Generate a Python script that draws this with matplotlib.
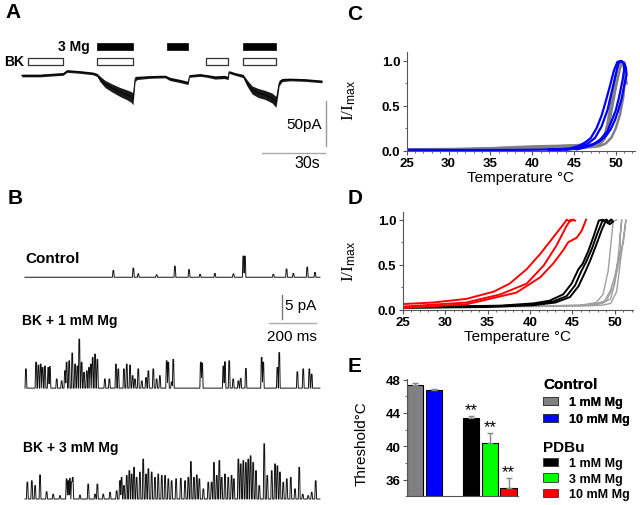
import numpy as np
import matplotlib
matplotlib.use('Agg')
import matplotlib.pyplot as plt
from matplotlib.patches import Patch
from matplotlib.ticker import MultipleLocator

plt.rcParams['font.family'] = ['Liberation Sans', 'DejaVu Sans']
plt.rcParams['mathtext.fontset'] = 'custom'
plt.rcParams['mathtext.rm'] = 'Liberation Sans'
plt.rcParams['mathtext.it'] = 'Liberation Sans:italic'

# ---------------- data: panel A (whole-cell current, s / pA) ----------------
a_t = [0.3, 9.0, 16.2, 20.0, 21.9, 28.1, 34.3, 36.2, 37.6, 40.0, 43.3, 47.1, 50.5,
       52.4, 53.3, 54.3, 55.2, 61.4, 68.6, 70.9, 75.7, 79.5, 80.2, 85.2, 88.6, 92.4,
       96.7, 98.6, 99.0, 101.9, 105.7, 107.6, 110.0, 112.9, 116.2, 119.5, 121.4,
       122.9, 124.3, 128.1, 135.2, 143.3]
a_i = [-0.6, -0.6, 0.6, 1.1, 4.4, 3.3, 1.7, 0.0, -4.4, -10.0, -14.4, -18.9, -22.2,
       -24.4, -26.7, -4.4, -3.3, -2.2, -1.7, -4.4, -6.7, -8.9, -1.1, 0.0, -1.1, -2.8,
       -2.2, -3.3, 3.3, 1.1, -1.1, -8.9, -16.7, -20.0, -22.2, -25.6, -30.0,
       -8.9, -5.6, -5.0, -5.6, -7.2]
a_noise = [1.5, 1.5, 1.5, 1.5, 1.5, 1.5, 1.5, 1.8, 3.0, 4.0, 4.5, 5.0, 5.5,
           6.0, 6.5, 3.0, 1.8, 1.5, 1.5, 1.8, 1.8, 1.8, 1.5, 1.5, 1.5, 1.8,
           1.8, 1.8, 1.5, 1.5, 1.8, 3.5, 4.5, 5.0, 5.0, 5.5, 6.0,
           3.0, 1.8, 1.5, 1.5, 1.5]
bk_start = [3.3, 36.2, 88.1, 105.7]
bk_end = [20.0, 53.3, 98.6, 121.4]
mg_start = [36.2, 69.5, 105.7]
mg_end = [53.3, 79.5, 121.4]

# ---------------- data: panel B (single channel events, ms / pA) ----------------
ctl_t = [376, 461, 482, 638, 698, 808, 929, 936, 1113, 1201, 1234, 560, 745, 887, 1057, 1142]
ctl_a = [1.4, 1.9, 0.7, 2.3, 1.6, 0.8, 4.4, 4.4, 1.7, 2.1, 1.0, 0.5, 0.6, 0.7, 0.6, 0.8]

bk1_t = [4, 47, 57, 67, 75, 85, 99, 106, 135, 156, 170, 177, 188, 201, 213, 223, 231,
         241, 251, 263, 272, 280, 288, 298, 308, 340, 359, 387, 397, 421, 433, 447,
         458, 468, 482, 497, 515, 525, 546, 560, 574, 603, 610, 624, 631, 748, 754,
         844, 851, 869, 886, 908, 918, 940, 1007, 1014, 1074, 1082, 1159, 1184, 1210, 1220]
bk1_a = [4.0, 5.4, 4.8, 5.0, 4.3, 4.6, 4.3, 4.5, 1.9, 1.5, 3.6, 5.4, 5.7, 7.3, 5.0, 4.6, 10.2,
         5.4, 3.3, 3.6, 4.3, 5.0, 6.4, 7.1, 6.0, 1.9, 1.9, 5.0, 4.0, 4.0, 5.0, 4.8,
         2.6, 1.9, 4.0, 1.5, 2.2, 3.6, 4.0, 1.9, 2.6, 5.7, 5.4, 1.3, 6.0, 5.4, 5.2,
         4.6, 5.5, 5.7, 1.9, 1.5, 2.0, 4.1, 6.4, 5.4, 4.3, 7.4, 3.4, 4.0, 4.0, 2.9]

bk3_t = [10, 29, 43, 64, 92, 120, 149, 177, 184, 191, 199, 203, 234, 269, 298, 308, 333,
         362, 390, 404, 411, 421, 433, 444, 454, 464, 475, 489, 503, 515, 525, 539, 553,
         567, 582, 596, 610, 624, 643, 663, 681, 695, 706, 719, 731, 742, 759, 780, 794,
         804, 816, 827, 837, 851, 865, 879, 889, 908, 918, 929, 940, 950, 960, 971, 983,
         997, 1018, 1031, 1050, 1064, 1074, 1085, 1099, 1114, 1131, 1149, 1167, 1182,
         1205, 1220, 1237]
bk3_a = [3.5, 3.8, 2.8, 5.0, 1.5, 1.0, 0.7, 4.2, 3.8, 4.3, 3.6, 4.5, 0.8, 3.1, 1.0, 3.1, 1.0,
         1.4, 1.7, 3.8, 4.5, 2.8, 4.9, 5.9, 5.2, 6.6, 4.5, 5.6, 8.3, 5.2, 6.3, 5.6, 4.5,
         5.2, 4.9, 4.9, 4.2, 3.8, 4.2, 4.3, 3.8, 4.5, 7.8, 4.5, 5.0, 4.2, 2.1, 3.5, 3.5,
         7.6, 4.9, 8.0, 4.5, 5.2, 4.5, 4.9, 4.2, 8.3, 7.3, 8.0, 7.6, 8.3, 9.0, 7.6, 5.9,
         2.8, 11.5, 4.9, 5.9, 7.3, 6.9, 5.6, 3.5, 4.2, 4.5, 2.1, 6.6, 1.0,
         0.7, 1.4, 3.8]

# ---------------- data: panel C (temperature / normalised current) ----------------
c_gray1_T = [25, 30, 35, 38, 41, 44, 46, 47.5, 48.2, 48.6, 49.0, 49.4, 49.8, 50.2, 50.5, 50.9, 51.1, 51.3]
c_gray1_I = [0.01, 0.015, 0.025, 0.04, 0.05, 0.055, 0.06, 0.065, 0.08, 0.14, 0.3, 0.52, 0.74, 0.92, 1.0, 0.97, 0.85, 0.75]
c_gray2_T = [25, 32, 38, 42, 45, 47, 48, 48.6, 49.1, 49.6, 50.1, 50.6, 51.0, 51.1, 50.9, 50.5, 50.0, 49.5, 48.8, 48.0, 47.0, 45.0, 42, 38]
c_gray2_I = [0.015, 0.02, 0.035, 0.045, 0.06, 0.07, 0.08, 0.12, 0.25, 0.5, 0.75, 0.95, 0.98, 0.8, 0.6, 0.4, 0.25, 0.15, 0.08, 0.05, 0.04, 0.03, 0.025, 0.02]
c_blue1_T = [25, 30, 35, 40, 43, 44.5, 45.5, 46.3, 47.0, 47.7, 48.3, 48.8, 49.3, 49.8, 50.2, 50.6, 51.0, 51.2,
             51.3, 51.0, 50.7, 50.3, 49.9, 49.4, 48.8, 48.0, 47.0, 46.0, 45.0, 44.0, 42]
c_blue1_I = [0.01, 0.008, 0.008, 0.01, 0.015, 0.025, 0.05, 0.09, 0.14, 0.25, 0.39, 0.55, 0.72, 0.9, 0.99, 1.0, 0.98, 0.93,
             0.85, 0.72, 0.58, 0.45, 0.34, 0.24, 0.16, 0.1, 0.06, 0.035, 0.02, 0.012, 0.01]
c_blue2_T = [44, 45.5, 46.5, 47.5, 48.3, 49.0, 49.5, 50.0, 50.3, 50.7, 51.0,
             51.0, 50.8, 50.4, 50.0, 49.5, 49.0, 48.2, 47.3, 46.3, 45.3]
c_blue2_I = [0.01, 0.03, 0.07, 0.14, 0.27, 0.45, 0.65, 0.85, 0.97, 1.0, 0.96,
             0.9, 0.78, 0.6, 0.45, 0.33, 0.22, 0.13, 0.07, 0.035, 0.015]

# ---------------- data: panel D ----------------
d_red = [
    ([25.1, 28.6, 32.5, 35.7, 37.6, 39.6, 41.2, 42.7, 44.1, 44.3, 44.7, 45.1],
     [0.063, 0.08, 0.12, 0.2, 0.29, 0.45, 0.62, 0.80, 0.97, 1.0, 0.98, 1.0]),
    ([25.1, 32.5, 36.5, 39.6, 41.6, 43.1, 44.3, 44.8, 45.3],
     [0.035, 0.08, 0.17, 0.29, 0.49, 0.71, 0.93, 1.0, 0.99]),
    ([25.1, 32.5, 38.4, 41.2, 42.7, 43.9, 44.5, 45.5, 46.1, 46.6],
     [0.02, 0.06, 0.19, 0.36, 0.51, 0.66, 0.75, 0.8, 0.88, 1.0]),
]
d_black = [
    ([25, 30, 36.5, 40.4, 42.3, 43.9, 44.9, 45.7, 46.2, 46.9, 47.5, 48.1, 48.6, 49.1, 49.6],
     [0.03, 0.035, 0.045, 0.07, 0.1, 0.17, 0.29, 0.45, 0.51, 0.66, 0.82, 0.99, 1.0, 0.97, 1.0]),
    ([25, 30, 36.5, 40.4, 42.7, 44.3, 45.3, 46.0, 46.6, 47.3, 47.9, 48.5, 49.0],
     [0.025, 0.03, 0.04, 0.06, 0.09, 0.15, 0.27, 0.42, 0.53, 0.68, 0.84, 0.98, 1.0]),
    ([25, 35, 40.4, 43.0, 44.7, 45.7, 46.5, 47.1, 47.8, 48.5, 49.0, 49.4, 49.8, 49.5, 49.2],
     [0.02, 0.03, 0.05, 0.08, 0.14, 0.26, 0.42, 0.55, 0.72, 0.9, 1.0, 0.95, 0.98, 1.0, 0.96]),
]
d_gray = [
    ([25, 35, 42, 46, 47.8, 48.6, 49.2, 49.6, 49.8, 50.2],
     [0.03, 0.035, 0.04, 0.05, 0.08, 0.17, 0.43, 0.8, 0.98, 1.0]),
    ([40, 46, 48.5, 49.5, 50.0, 50.4, 50.8, 50.6, 50.7, 50.4, 50.0, 49.5, 48.8, 48.0, 46.0],
     [0.04, 0.05, 0.07, 0.12, 0.3, 0.6, 1.0, 0.8, 0.68, 0.55, 0.38, 0.22, 0.1, 0.06, 0.05]),
    ([30, 40, 46, 48.5, 49.5, 50.2, 50.6, 51.0, 51.3, 51.0, 50.6, 50.3, 49.8, 49.0, 47],
     [0.03, 0.035, 0.04, 0.05, 0.07, 0.2, 0.5, 0.8, 1.0, 0.75, 0.6, 0.45, 0.25, 0.1, 0.05]),
]

# ---------------- data: panel E ----------------
e_labels = ['1 mM Mg', '10 mM Mg', '1 mM Mg', '3 mM Mg', '10 mM Mg']
e_mean = [47.4, 46.7, 43.4, 40.4, 35.0]
e_err = [0.25, 0.2, 0.2, 1.2, 1.2]
e_pos = [0, 1, 3, 4, 5]
e_colors = ['#808080', '#0000ff', '#000000', '#00ff00', '#ff0000']
e_sig = [False, False, True, True, True]

W, H = 640, 506
fig = plt.figure(figsize=(6.4, 5.06), dpi=100)


def box(x0, y0, x1, y1):
    return [x0 / W, 1 - y1 / H, (x1 - x0) / W, (y1 - y0) / H]


def letter(x, y, s):
    fig.text(x / W, 1 - y / H, s, fontsize=15, fontweight='bold', ha='center', va='center')


letter(13, 13, 'A')
letter(15, 199, 'B')
letter(355, 15, 'C')
letter(355, 199, 'D')
letter(355, 367, 'E')

# ---------------- panel A ----------------
axA = fig.add_axes(box(0, 0, 330, 180))
axA.axis('off')
axA.set_xlim(-10, 147.1)
axA.set_ylim(-115.6, 84.4)
at = np.array(a_t); ai = np.array(a_i); an = np.array(a_noise)
axA.fill_between(at, ai - an, ai + an, color='#1a1a1a', lw=0)
axA.plot(at, ai, color='black', lw=0.6)
axA.broken_barh([(s, e - s) for s, e in zip(bk_start, bk_end)], (11.4, 7.2),
                facecolors='white', edgecolors='#333333', linewidths=0.9)
axA.broken_barh([(s, e - s) for s, e in zip(mg_start, mg_end)], (27.8, 7.4),
                facecolors='black', edgecolors='black', linewidths=0.5)
axA.text(32.9, 32, '3 Mg', fontsize=10, fontweight='bold', ha='right', va='center')
axA.text(1.4, 15.0, 'BK', fontsize=10, fontweight='bold', ha='right', va='center')
axA.plot([145.2, 145.2], [-28.6, -78.6], color='#999999', lw=1.0)
axA.plot([114.8, 144.8], [-86.7, -86.7], color='#aaaaaa', lw=1.0)
axA.text(143.3, -54.4, '50pA', fontsize=11, ha='right', va='center')
axA.text(136.2, -97.5, '30s', fontsize=11.5, ha='center', va='center')

# ---------------- panel B ----------------
axB = fig.add_axes(box(0, 180, 330, 506))
axB.axis('off')
axB.set_xlim(-106.4, 1297.9)
axB.set_ylim(-1.25, 66.67)
t_grid = np.arange(0, 1255.5, 0.5)


def build(ev_t, ev_a):
    y = np.zeros_like(t_grid)
    for tc, a in zip(ev_t, ev_a):
        d = np.abs(t_grid - tc)
        y = np.maximum(y, a * np.clip((4.0 - d) / 2.5, 0, 1))
    return y


for ev_t, ev_a, off in [(ctl_t, ctl_a, 46.2), (bk1_t, bk1_a, 23.1), (bk3_t, bk3_a, 0.0)]:
    axB.plot(t_grid, build(ev_t, ev_a) + off, color='#111111', lw=0.7)
axB.text(0, 50.2, 'Control', fontsize=11, fontweight='bold', ha='left', va='center')
axB.text(-14, 37.3, 'BK + 1 mM Mg', fontsize=10, fontweight='bold', ha='left', va='center')
axB.text(-7, 10.8, 'BK + 3 mM Mg', fontsize=10, fontweight='bold', ha='left', va='center')
axB.plot([1093.6, 1093.6], [42.5, 37.5], color='#777777', lw=1.0)
axB.plot([1038, 1238], [36.7, 36.7], color='#aaaaaa', lw=1.0)
axB.text(1106, 40.4, '5 pA', fontsize=11, ha='left', va='center')
axB.text(1136, 33.9, '200 ms', fontsize=11, ha='center', va='center')


# ---------------- panels C & D ----------------
def style_trace_axes(ax):
    for s in ['top', 'right']:
        ax.spines[s].set_visible(False)
    for s in ['left', 'bottom']:
        ax.spines[s].set_color('#555555')
        ax.spines[s].set_linewidth(0.8)
    ax.xaxis.set_major_locator(MultipleLocator(5))
    ax.xaxis.set_minor_locator(MultipleLocator(1))
    ax.yaxis.set_major_locator(MultipleLocator(0.5))
    ax.yaxis.set_minor_locator(MultipleLocator(0.25))
    ax.yaxis.set_major_formatter(matplotlib.ticker.FormatStrFormatter('%.1f'))
    ax.tick_params(which='major', length=3, width=0.8, color='#555555', pad=1.5, labelsize=9.5)
    ax.tick_params(which='minor', length=1.5, width=0.6, color='#555555')
    for lab in ax.get_xticklabels() + ax.get_yticklabels():
        lab.set_fontweight('bold')
    ax.set_xlabel('Temperature °C', fontsize=11, labelpad=1)
    ax.set_ylabel(r'I/I$_{\mathrm{max}}$', fontsize=12.5, family='Liberation Serif')


axC = fig.add_axes(box(406.7, 53, 635, 151.7))
axC.set_xlim(25, 52.3)
axC.set_ylim(0, 1.1)
axC.plot(c_gray1_T, c_gray1_I, color='#808080', lw=1.8)
axC.plot(c_gray2_T, c_gray2_I, color='#808080', lw=1.8)
axC.plot(c_blue1_T, c_blue1_I, color='#0000ff', lw=1.6)
axC.plot(c_blue2_T, c_blue2_I, color='#0000ff', lw=1.6)
style_trace_axes(axC)
axC.yaxis.set_label_coords(-0.215, 0.52)

axD = fig.add_axes(box(402.7, 212.7, 633, 310.7))
axD.set_xlim(25, 52.13)
axD.set_ylim(0, 1.089)
for T, I in d_gray:
    axD.plot(T, I, color='#a0a0a0', lw=1.0)
for T, I in d_black:
    axD.plot(T, I, color='black', lw=1.4)
for T, I in d_red:
    axD.plot(T, I, color='#ff0000', lw=1.4)
style_trace_axes(axD)
axD.yaxis.set_label_coords(-0.195, 0.5)

# ---------------- panel E ----------------
axE = fig.add_axes(box(406.7, 379.8, 518.3, 497.3))
axE.set_xlim(-0.444, 5.524)
axE.set_ylim(34, 48.1)
axE.bar(e_pos, e_mean, width=0.856, color=e_colors, edgecolor='black', linewidth=0.8)
axE.errorbar(e_pos, e_mean, yerr=[np.zeros(len(e_err)), e_err], fmt='none',
             ecolor='#888888', elinewidth=1.0, capsize=2, capthick=1.0)
for p, m, e, s in zip(e_pos, e_mean, e_err, e_sig):
    if s:
        axE.text(p, m + e + 0.8, '**', fontsize=12, ha='center', va='center')
for s in ['top', 'right']:
    axE.spines[s].set_visible(False)
for s in ['left', 'bottom']:
    axE.spines[s].set_color('#555555')
    axE.spines[s].set_linewidth(0.8)
axE.set_xticks([])
axE.yaxis.set_major_locator(MultipleLocator(4))
axE.yaxis.set_minor_locator(MultipleLocator(2))
axE.tick_params(axis='y', which='major', length=3, width=0.8, color='#555555', pad=1.5, labelsize=9.5)
axE.tick_params(axis='y', which='minor', length=1.5, width=0.6, color='#555555')
for lab in axE.get_yticklabels():
    lab.set_fontweight('bold')
axE.set_ylabel('Threshold°C', fontsize=11)
axE.yaxis.set_label_coords(-0.338, 0.457)

handles = [Patch(facecolor=c, edgecolor='#333333', linewidth=0.6) for c in e_colors]
leg1 = fig.legend(handles[:2], e_labels[:2], loc='upper left',
                  bbox_to_anchor=(543 / W, 1 - 378 / H), frameon=False,
                  prop={'weight': 'bold', 'size': 9}, title='Control',
                  title_fontproperties={'weight': 'bold', 'size': 11}, alignment='left',
                  borderpad=0, borderaxespad=0, handlelength=1.2, handleheight=0.64,
                  handletextpad=0.9, labelspacing=0.42)
leg2 = fig.legend(handles[2:], e_labels[2:], loc='upper left',
                  bbox_to_anchor=(543 / W, 1 - 441 / H), frameon=False,
                  prop={'weight': 'bold', 'size': 9}, title='PDBu',
                  title_fontproperties={'weight': 'bold', 'size': 11}, alignment='left',
                  borderpad=0, borderaxespad=0, handlelength=1.2, handleheight=0.64,
                  handletextpad=0.9, labelspacing=0.28)
fig.add_artist(leg1)

fig.savefig('out.png', dpi=100, facecolor='white')
